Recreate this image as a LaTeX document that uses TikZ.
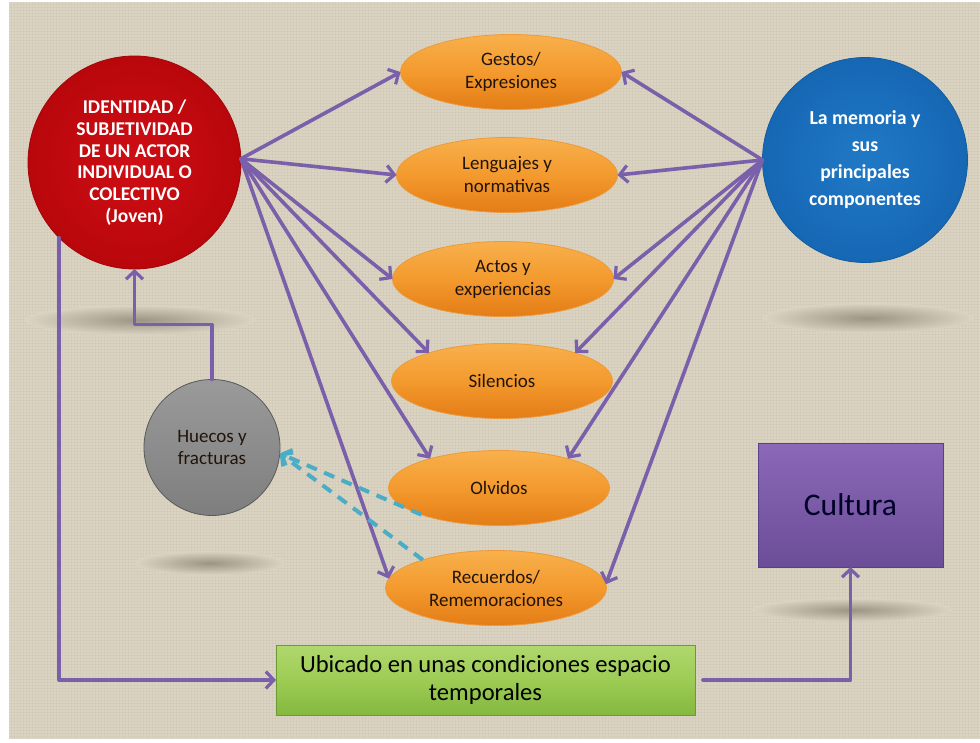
\documentclass[tikz,border=0pt]{standalone}
\usepackage{fontspec}
\setmainfont{Carlito}
\usetikzlibrary{arrows.meta,shapes.geometric,calc}

\definecolor{canvas}{HTML}{DCD4C2}
\definecolor{weave}{HTML}{A89E88}
\definecolor{shadowtone}{HTML}{9C9484}
\definecolor{linkpurple}{HTML}{7A5FAA}
\definecolor{linkteal}{HTML}{4BACC6}
\definecolor{inktext}{HTML}{22140A}
\definecolor{orangetop}{HTML}{F8B04C}
\definecolor{orangemid}{HTML}{F39A2E}
\definecolor{orangebot}{HTML}{E47C16}
\definecolor{orangeedge}{HTML}{EC9A3A}
\definecolor{redin}{HTML}{CF0E14}
\definecolor{redout}{HTML}{B8070C}
\definecolor{rededge}{HTML}{A30509}
\definecolor{bluein}{HTML}{2079C6}
\definecolor{blueout}{HTML}{1667B4}
\definecolor{blueedge}{HTML}{135C9E}
\definecolor{graytop}{HTML}{9A9A9A}
\definecolor{graybot}{HTML}{7E7E7E}
\definecolor{greentop}{HTML}{B0D86E}
\definecolor{greenmid}{HTML}{9DCC55}
\definecolor{greenbot}{HTML}{84B83E}
\definecolor{greenedge}{HTML}{6E9A35}
\definecolor{violettop}{HTML}{8B68B8}
\definecolor{violetbot}{HTML}{6B4D98}
\definecolor{violetedge}{HTML}{5A4085}

\tikzset{
  link/.style={draw=linkpurple, line width=3.6pt, line cap=round, line join=round,
    -{Straight Barb[length=8pt,width=17pt,line width=3.2pt]}},
  gaplink/.style={draw=linkteal, line width=4pt, dash pattern=on 11pt off 8pt,
    -{Straight Barb[length=8pt,width=17pt,line width=3.4pt]}},
  topic/.style={ellipse, inner sep=0pt, outer sep=0pt, minimum width=221pt, minimum height=75pt,
    top color=orangetop, bottom color=orangebot, middle color=orangemid,
    draw=orangeedge, line width=0.8pt,
    text=inktext, align=center, font=\fontsize{19}{23}\selectfont},
  disc/.style={circle, inner sep=0pt, outer sep=0pt, align=center},
  floorshadow/.style={inner color=shadowtone, outer color=canvas}
}

\begin{document}
\begin{tikzpicture}[x=1pt,y=-1pt]
  \useasboundingbox (0,0) rectangle (980,742);
  % paper and canvas background
  \fill[white] (0,0) rectangle (980,742);
  \fill[canvas] (9,2) rectangle (980,739);
  \begin{scope}[line width=0.5pt, draw=weave, opacity=0.10]
    \foreach \i in {11,14,...,978} \draw (\i,2) -- (\i,739);
    \foreach \j in {4,7,...,738} \draw (9,\j) -- (980,\j);
  \end{scope}

  % soft floor shadows
  \shade[floorshadow] (140,320) ellipse (115 and 15);
  \shade[floorshadow] (868,318) ellipse (105 and 15);
  \shade[floorshadow] (210,563) ellipse (75 and 12);
  \shade[floorshadow] (852,610) ellipse (100 and 12);

  % main actors
  \node[disc, minimum size=213pt, inner color=redin, outer color=redout,
        draw=rededge, line width=0.8pt, text=white,
        font=\fontsize{19.5}{21.7}\selectfont\bfseries] (red) at (134.5,162.5)
        {IDENTIDAD /\\SUBJETIVIDAD\\DE UN ACTOR\\INDIVIDUAL O\\COLECTIVO\\(Joven)};
  \node[disc, minimum size=205pt, inner color=bluein, outer color=blueout,
        draw=blueedge, line width=0.8pt, text=white,
        font=\fontsize{19.8}{27}\selectfont\bfseries] (blu) at (865,160)
        {La memoria y\\sus\\principales\\componentes};
  \node[disc, minimum size=136pt, top color=graytop, bottom color=graybot,
        draw=gray!70!black, line width=0.8pt, text=inktext,
        font=\fontsize{19}{22}\selectfont] (gry) at (212,447.5)
        {Huecos y\\fracturas};

  % components of memory
  \node[topic] (ges) at (511,72)  {Gestos/\\Expresiones};
  \node[topic] (len) at (507,175) {Lenguajes y\\normativas};
  \node[topic] (act) at (503,279) {Actos y\\experiencias};
  \node[topic] (sil) at (502,381) {Silencios};
  \node[topic] (olv) at (499,488) {Olvidos};
  \node[topic] (rec) at (496,588) {Recuerdos/\\Rememoraciones};

  % context and culture
  \node[rectangle, minimum width=419pt, minimum height=70pt, inner sep=0pt, outer sep=0pt,
        top color=greentop, bottom color=greenbot, middle color=greenmid,
        draw=greenedge, line width=0.8pt,
        align=center, text=black, font=\fontsize{24.6}{28}\selectfont] (grn) at (485.5,680)
        {Ubicado en unas condiciones espacio\\temporales};
  \node[rectangle, minimum width=185pt, minimum height=124pt, inner sep=0pt, outer sep=0pt,
        top color=violettop, bottom color=violetbot,
        draw=violetedge, line width=0.8pt,
        text=black!85!blue, font=\fontsize{31.5}{36}\selectfont] (cul) at (850.5,505)
        {Cultura};

  % links from the actor to each component
  \draw[link] (red.2) -- (ges.west);
  \draw[link] (red.2) -- (len.west);
  \draw[link] (red.2) -- (act.west);
  \draw[link] (red.2) -- (sil.159);
  \draw[link] (red.2) -- (olv.157);
  \draw[link] (red.2) -- (rec.175);

  % links from memory to each component
  \draw[link] (blu.west) -- (ges.east);
  \draw[link] (blu.west) -- (len.east);
  \draw[link] (blu.west) -- (act.east);
  \draw[link] (blu.west) -- (sil.21);
  \draw[link] (blu.west) -- (olv.23);
  \draw[link] (blu.west) -- (rec.2);

  % elbow connectors
  \draw[link] (red.225) |- (grn.west);
  \draw[link] (gry.north) -- ++(0,-55) -| (red.south);
  \draw[link, shorten <=8pt] (grn.east) -| (cul.south);

  % gaps fed by forgetting and remembering
  \draw[gaplink] (olv.199) -- (gry.355);
  \draw[gaplink] (rec.159) -- (gry.355);
\end{tikzpicture}
\end{document}
